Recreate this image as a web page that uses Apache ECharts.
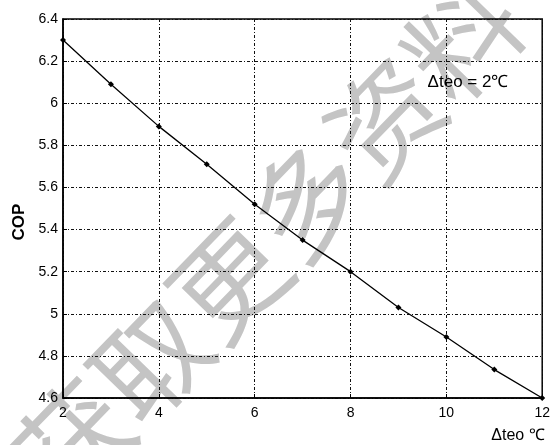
<!DOCTYPE html>
<html>
<head>
<meta charset="utf-8">
<script src="https://cdn.jsdelivr.net/npm/echarts@6/dist/echarts.min.js"></script>
<style>
  html, body { margin: 0; padding: 0; background: #fff; }
  #chart { width: 553px; height: 445px; }
</style>
</head>
<body>
<div id="chart"></div>
<script>
// Evaporator temperature difference (°C) and resulting COP
const deltaTeo = [2, 3, 4, 5, 6, 7, 8, 9, 10, 11, 12];
const cop = [6.30, 6.09, 5.89, 5.71, 5.52, 5.35, 5.20, 5.03, 4.89, 4.735, 4.60];

const xTicks = [2, 4, 6, 8, 10, 12];
const yMin = 4.6, yMax = 6.4, yStep = 0.2;

const annotation = 'Δteo = 2℃';
const xName = 'Δteo ℃';
const yName = 'COP';
const watermark = '获取更多资料';

const points = deltaTeo.map((x, i) => [x, cop[i]]);

const font = '"Liberation Sans", Arial, sans-serif';
const gridLine = { show: true, lineStyle: { color: '#111', width: 1, type: [3, 2, 1, 2] } };

const chart = echarts.init(document.getElementById('chart'), null, { renderer: 'canvas' });
chart.setOption({
  backgroundColor: '#fff',
  animation: false,
  grid: {
    left: 63, right: 8, top: 19, bottom: 47,
    show: true, borderColor: '#000', borderWidth: 1.5, backgroundColor: 'transparent'
  },
  xAxis: {
    type: 'value',
    min: xTicks[0], max: xTicks[xTicks.length - 1], interval: 2,
    axisLine: { show: true, lineStyle: { color: '#000', width: 1.5 } },
    axisTick: { show: true, inside: true, length: 4, lineStyle: { color: '#000' } },
    axisLabel: { color: '#000', fontFamily: font, fontSize: 14, margin: 8 },
    splitLine: gridLine
  },
  yAxis: {
    type: 'value',
    min: yMin, max: yMax, interval: yStep,
    axisLine: { show: true, lineStyle: { color: '#000', width: 1.5 } },
    axisTick: { show: true, inside: true, length: 4, lineStyle: { color: '#000' } },
    axisLabel: {
      color: '#000', fontFamily: font, fontSize: 14, margin: 5,
      formatter: v => String(Math.round(v * 10) / 10)
    },
    splitLine: gridLine
  },
  series: [{
    type: 'line',
    data: points,
    symbol: 'diamond', symbolSize: 6,
    itemStyle: { color: '#000' },
    lineStyle: { color: '#000', width: 1.3 },
    z: 5
  }],
  graphic: [
    {
      type: 'text', z: -10, silent: true,
      x: 268, y: 240, rotation: 0.8,
      style: {
        text: watermark, fill: '#c4c4c4',
        font: '112px "Noto Sans CJK SC"',
        textAlign: 'center', textVerticalAlign: 'middle'
      }
    },
    {
      type: 'text', z: 10,
      x: 468, y: 82,
      style: { text: annotation, fill: '#000', font: '17px ' + font, textAlign: 'center', textVerticalAlign: 'middle' }
    },
    {
      type: 'text', z: 10,
      x: 518, y: 436,
      style: { text: xName, fill: '#000', font: '16px ' + font, textAlign: 'center', textVerticalAlign: 'middle' }
    },
    {
      type: 'text', z: 10,
      x: 19, y: 222, rotation: Math.PI / 2,
      style: { text: yName, fill: '#000', font: 'bold 17px ' + font, textAlign: 'center', textVerticalAlign: 'middle' }
    }
  ]
});
</script>
</body>
</html>
